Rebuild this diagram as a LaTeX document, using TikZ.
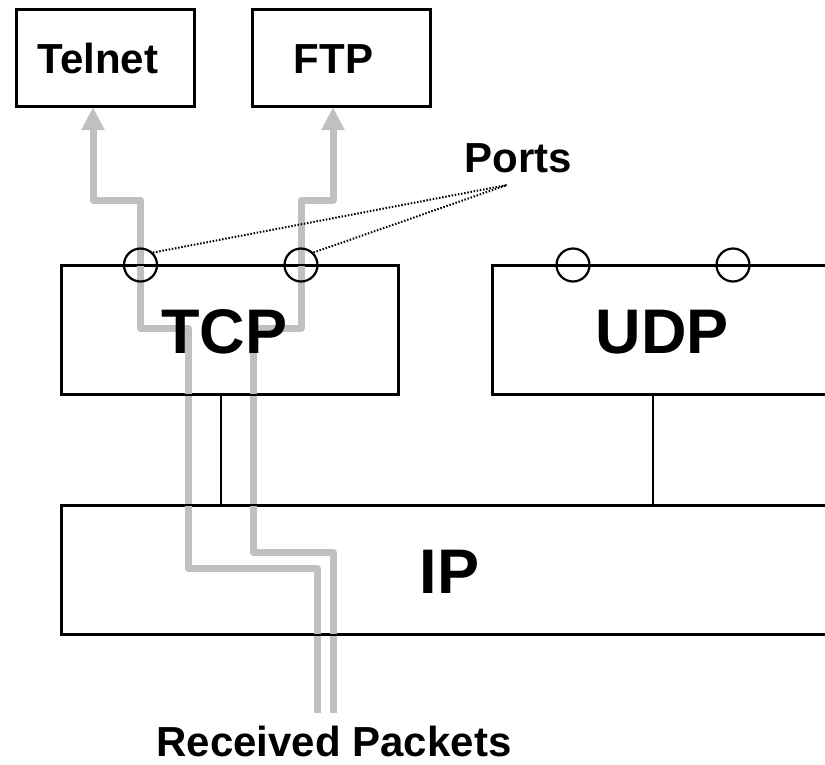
\documentclass[tikz,border=0pt]{standalone}
\usepackage{fontspec}
\setmainfont{Liberation Sans}
\usetikzlibrary{arrows.meta}
\definecolor{pktgray}{HTML}{C0C0C0}
\begin{document}
\begin{tikzpicture}[x=1pt,y=-1pt,
  box/.style={draw=black, line width=2.2pt, inner sep=0pt, anchor=north west},
  port/.style={draw=black, line width=2.2pt, circle, minimum size=33pt, inner sep=0pt},
  pkt/.style={draw=pktgray, line width=7pt, line join=round},
  pkttip/.style={-{Triangle[width=22pt,length=23pt]}},
  dots/.style={draw=black, line width=2pt, dash pattern=on 1.5pt off 1.7pt},
  wire/.style={draw=black, line width=2.2pt},
  small/.style={font=\bfseries\fontsize{42}{50}\selectfont, anchor=base, inner sep=0pt},
  big/.style={font=\bfseries\fontsize{63}{75}\selectfont, anchor=base, inner sep=0pt}]
\useasboundingbox (0,0) rectangle (825,764);
\clip (0,0) rectangle (825,764);

% boxes (named, empty; labels placed separately)
\node[box, minimum width=177pt, minimum height=96pt] (telnet) at (16,9) {};
\node[box, minimum width=177pt, minimum height=96pt] (ftp) at (252,9) {};
\node[box, minimum width=336pt, minimum height=128pt] (tcp) at (61,265) {};
\node[box, minimum width=360pt, minimum height=128pt] (udp) at (492,265) {};
\node[box, minimum width=800pt, minimum height=128pt] (ip) at (61,505) {};

% packet paths
\coordinate (in1) at (317,713);
\coordinate (in2) at (333,713);
\coordinate (ta) at (93,0);
\coordinate (fa) at (333,0);
\draw[pkt, pkttip] (in1) -- (317,568) -- (188,568) -- (188,328) -- (140.5,328)
   -- (140.5,200) -- (93,200) -- (telnet.south -| ta);
\draw[pkt, pkttip] (in2) -- (333,552) -- (253,552) -- (253,328) -- (301,328)
   -- (301,200) -- (333,200) -- (ftp.south -| fa);

% redraw boxes on top of packet paths
\draw[wire] (telnet.north west) rectangle (telnet.south east);
\draw[wire] (ftp.north west) rectangle (ftp.south east);
\draw[wire] (tcp.north west) rectangle (tcp.south east);
\draw[wire] (udp.north west) rectangle (udp.south east);
\draw[wire] (ip.north west) rectangle (ip.south east);

% ports
\node[port] (c1) at (140.5,265) {};
\node[port] (c2) at (301,265) {};
\node[port] (c3) at (573,265) {};
\node[port] (c4) at (733,265) {};

% vertical links to IP
\coordinate (tl) at (221,0);
\coordinate (ul) at (653,0);
\draw[wire] (tcp.south -| tl) -- (ip.north -| tl);
\draw[wire] (udp.south -| ul) -- (ip.north -| ul);

% labels
\node[small] (telnetlbl) at (98,73) {Telnet};
\node[small] (ftplbl) at (333.5,73) {FTP};
\node[small] (ports) at (518.5,172) {Ports};
\node[big] (tcplbl) at (224.5,353) {TCP};
\node[big] (udplbl) at (662.5,353) {UDP};
\node[big] (iplbl) at (449.5,593) {IP};
\node[small] (rcv) at (334,756) {Received Packets};

% dotted pointers
\coordinate (pe) at (507,185);
\draw[dots] (c1.45) -- (pe);
\draw[dots] (c2.45) -- (pe);
\end{tikzpicture}
\end{document}
